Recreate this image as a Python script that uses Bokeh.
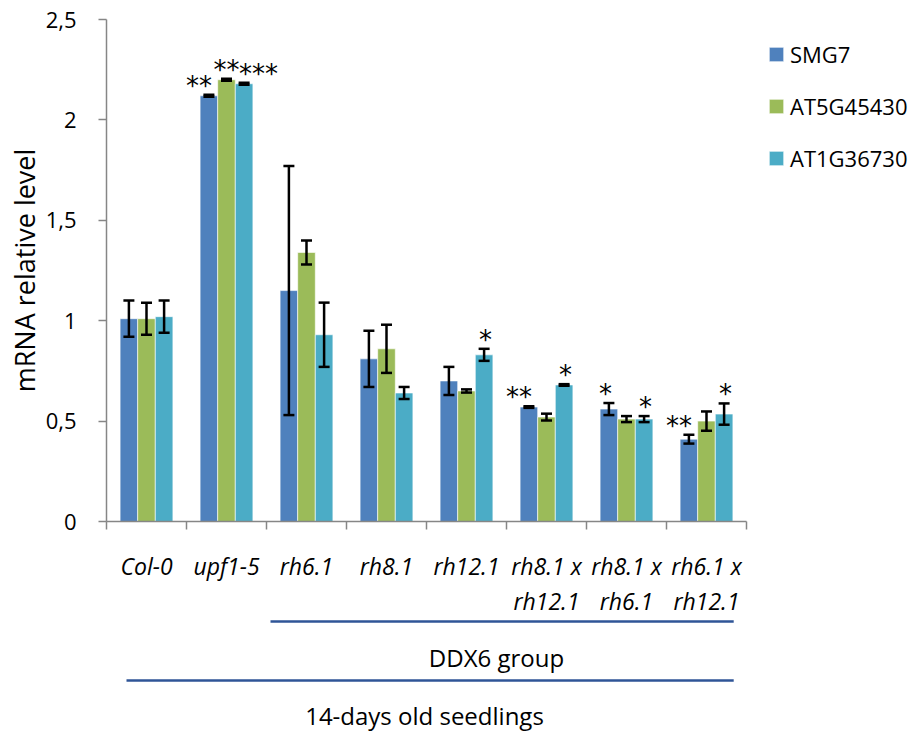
from bokeh.plotting import figure
from bokeh.layouts import column
from bokeh.models import (ColumnDataSource, Range1d, FixedTicker, CustomJSTickFormatter,
                          Whisker, TeeHead, Legend, LegendItem)
from bokeh.core.properties import value
from bokeh.embed import file_html
from bokeh.resources import INLINE

# ---------------- data ----------------
categories = ["Col-0", "upf1-5", "rh6.1", "rh8.1", "rh12.1",
              "rh8.1 x\nrh12.1", "rh8.1 x\nrh6.1", "rh6.1 x\nrh12.1"]
series_names = ["SMG7", "AT5G45430", "AT1G36730"]
smg7 = [1.01, 2.12, 1.15, 0.81, 0.70, 0.57, 0.56, 0.41]
smg7_err = [0.09, 0.005, 0.62, 0.14, 0.07, 0.004, 0.03, 0.022]
at5g45430 = [1.01, 2.20, 1.34, 0.86, 0.65, 0.52, 0.51, 0.50]
at5g45430_err = [0.08, 0.005, 0.06, 0.12, 0.008, 0.017, 0.015, 0.048]
at1g36730 = [1.02, 2.18, 0.93, 0.64, 0.83, 0.68, 0.51, 0.535]
at1g36730_err = [0.08, 0.005, 0.16, 0.03, 0.03, 0.004, 0.015, 0.053]
smg7_sig = ["", "**", "", "", "", "**", "*", "**"]
at5g45430_sig = ["", "**", "", "", "", "", "", ""]
at1g36730_sig = ["", "***", "", "", "*", "*", "*", "*"]
y_ticks = [0, 0.5, 1, 1.5, 2, 2.5]
group_ddx6 = ("DDX6 group", 2, 8)
group_all = ("14-days old seedlings", 0, 8)
y_label = "mRNA relative level"

colors = ["#4F81BD", "#9BBB59", "#4BACC6"]
values = [smg7, at5g45430, at1g36730]
errors = [smg7_err, at5g45430_err, at1g36730_err]
sigs = [smg7_sig, at5g45430_sig, at1g36730_sig]

FONT = "Open Sans"
n = len(categories)
bw = 0.22
offsets = [-bw, 0.0, bw]
star_align = [("right", 3), ("center", 0), ("left", -5)]

PX_PER_CAT = 80
LEFT = 106
FRAME_W = 915 - LEFT
x_range = Range1d(0, FRAME_W / PX_PER_CAT)

# ---------------- top figure: bars ----------------
p = figure(frame_width=FRAME_W, frame_height=502, output_backend="svg", toolbar_location=None,
           x_range=x_range, y_range=Range1d(0, 2.5),
           min_border_left=LEFT, min_border_right=0, min_border_top=19,
           min_border_bottom=30)
p.outline_line_color = None
p.xgrid.visible = False
p.ygrid.visible = False

renderers = []
for k in range(3):
    xs = [i + 0.5 + offsets[k] for i in range(n)]
    src = ColumnDataSource(dict(x=xs, top=values[k],
                                upper=[v + e for v, e in zip(values[k], errors[k])],
                                lower=[v - e for v, e in zip(values[k], errors[k])]))
    r = p.vbar(x="x", top="top", width=bw, source=src, fill_color=colors[k],
               line_color="white", line_alpha=0.6, line_width=1)
    renderers.append(r)
    w = Whisker(base="x", upper="upper", lower="lower", source=src,
                line_color="black", line_width=2.5, level="overlay",
                upper_head=TeeHead(size=11, line_width=2.5, line_color="black"),
                lower_head=TeeHead(size=11, line_width=2.5, line_color="black"))
    p.add_layout(w)
    sx, sy, st = [], [], []
    for i in range(n):
        if sigs[k][i]:
            sx.append(xs[i]); sy.append(values[k][i] + errors[k][i]); st.append(sigs[k][i])
    align, xoff = star_align[k]
    p.text(x=sx, y=sy, text=st, text_align=align, text_baseline="middle",
           x_offset=xoff, y_offset=-9,
           text_font=value("DejaVu Sans"), text_font_size="26px", text_color="black")

p.yaxis.ticker = FixedTicker(ticks=y_ticks)
p.yaxis.formatter = CustomJSTickFormatter(code="return tick.toString().replace('.', ',')")
p.yaxis.axis_line_color = "#868686"
p.yaxis.axis_line_width = 1.5
p.yaxis.major_tick_line_color = "#868686"
p.yaxis.major_tick_line_width = 1.5
p.yaxis.major_tick_out = 8
p.yaxis.major_tick_in = 0
p.yaxis.minor_tick_line_color = None
p.yaxis.major_label_text_font = FONT
p.yaxis.major_label_text_font_size = "22px"
p.yaxis.major_label_text_color = "black"
p.yaxis.major_label_standoff = 22
p.yaxis.axis_label = y_label
p.yaxis.axis_label_text_font = FONT
p.yaxis.axis_label_text_font_size = "27px"
p.yaxis.axis_label_text_font_style = "normal"
p.yaxis.axis_label_text_color = "black"
p.yaxis.axis_label_standoff = 0

p.xaxis.ticker = FixedTicker(ticks=list(range(n + 1)))
p.xaxis.bounds = (0, n)
p.xaxis.formatter = CustomJSTickFormatter(code="return ''")
p.xaxis.axis_line_color = "#868686"
p.xaxis.axis_line_width = 1.5
p.xaxis.major_tick_line_color = "#868686"
p.xaxis.major_tick_line_width = 1.5
p.xaxis.major_tick_out = 8
p.xaxis.major_tick_in = 0
p.xaxis.minor_tick_line_color = None
p.xaxis.major_label_text_font_size = "1px"

legend = Legend(items=[LegendItem(label=series_names[k], renderers=[renderers[k]]) for k in range(3)],
                location=(661, 348), border_line_color=None, background_fill_alpha=0,
                glyph_width=18, glyph_height=18, label_standoff=5, spacing=22,
                padding=0, margin=0, label_text_font=FONT, label_text_font_size="22px",
                label_text_color="black")
p.add_layout(legend, "center")

# ---------------- bottom figure: category & group labels ----------------
H2 = 180
q = figure(frame_width=FRAME_W, frame_height=H2, output_backend="svg", toolbar_location=None,
           x_range=x_range, y_range=Range1d(H2, 0), x_axis_location=None, y_axis_location=None,
           min_border_left=LEFT, min_border_right=0, min_border_top=0, min_border_bottom=0)
q.outline_line_color = None
q.xgrid.visible = False
q.ygrid.visible = False

row1 = [c.split("\n")[0] for c in categories]
row2 = [c.split("\n")[1] if "\n" in c else "" for c in categories]
cx = [i + 0.5 for i in range(n)]
q.text(x=cx, y=[14] * n, text=row1, text_align="center", text_baseline="middle",
       text_font=value(FONT), text_font_size="23px", text_font_style="italic", text_color="black")
q.text(x=cx, y=[49] * n, text=row2, text_align="center", text_baseline="middle",
       text_font=value(FONT), text_font_size="23px", text_font_style="italic", text_color="black")

line_col = "#2F5597"
for (name, a, b), ly, ty in ((group_ddx6, 70, 106), (group_all, 129, 164)):
    x0 = a + (0.05 if a > 0 else 0.25)
    x1 = b - 0.16
    q.segment(x0=[x0], y0=[ly], x1=[x1], y1=[ly], line_color=line_col, line_width=2.5)
    q.text(x=[(x0 + x1) / 2 - 0.07], y=[ty], text=[name], text_align="center", text_baseline="middle",
           text_font=value(FONT), text_font_size="24px", text_color="black")

layout = column(p, q, spacing=0)
open("out.html", "w").write(file_html(layout, INLINE))
